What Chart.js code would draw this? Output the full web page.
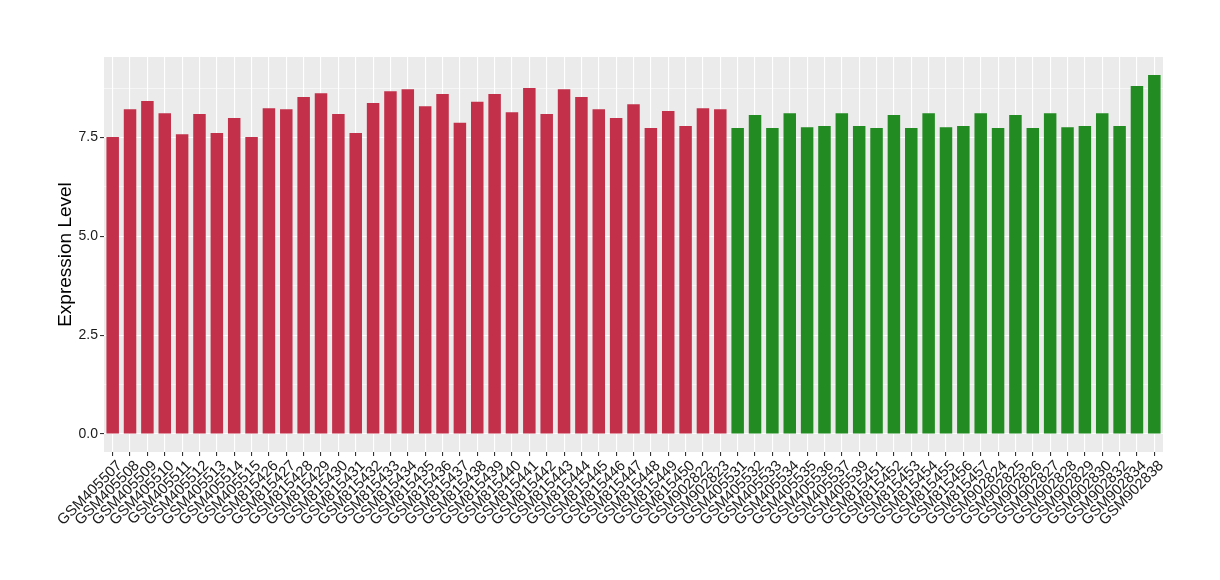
<!DOCTYPE html>
<html>
<head>
<meta charset="utf-8">
<script src="https://cdn.jsdelivr.net/npm/chart.js@4"></script>
<style>
    html, body { margin: 0; padding: 0; background: #fff; }
</style>
</head>
<body>
<canvas id="exprChart" width="1220" height="580"></canvas>
<script>
const redSamples = ['GSM405507', 'GSM405508', 'GSM405509', 'GSM405510', 'GSM405511', 'GSM405512',
    'GSM405513', 'GSM405514', 'GSM405515', 'GSM815426', 'GSM815427', 'GSM815428', 'GSM815429',
    'GSM815430', 'GSM815431', 'GSM815432', 'GSM815433', 'GSM815434', 'GSM815435', 'GSM815436',
    'GSM815437', 'GSM815438', 'GSM815439', 'GSM815440', 'GSM815441', 'GSM815442', 'GSM815443',
    'GSM815444', 'GSM815445', 'GSM815446', 'GSM815447', 'GSM815448', 'GSM815449', 'GSM815450',
    'GSM902822', 'GSM902823']
const redValues = [7.51, 8.21, 8.42, 8.11, 7.58, 8.09, 7.61, 7.99, 7.51, 8.24, 8.21, 8.52, 8.62,
    8.09, 7.61, 8.37, 8.67, 8.72, 8.29, 8.60, 7.87, 8.40, 8.60, 8.14, 8.75, 8.09, 8.72, 8.52,
    8.21, 7.99, 8.34, 7.74, 8.17, 7.79, 8.24, 8.21]

const greenSamples = ['GSM405531', 'GSM405532', 'GSM405533', 'GSM405534', 'GSM405535', 'GSM405536',
    'GSM405537', 'GSM405539', 'GSM815451', 'GSM815452', 'GSM815453', 'GSM815454', 'GSM815455',
    'GSM815456', 'GSM815457', 'GSM902824', 'GSM902825', 'GSM902826', 'GSM902827', 'GSM902828',
    'GSM902829', 'GSM902830', 'GSM902832', 'GSM902834', 'GSM902838']
const greenValues = [7.74, 8.07, 7.74, 8.11, 7.76, 7.79, 8.11, 7.79, 7.74, 8.07, 7.74, 8.11, 7.76,
    7.79, 8.11, 7.74, 8.07, 7.74, 8.11, 7.76, 7.79, 8.11, 7.79, 8.80, 9.08]

const yTicks = [0, 2.5, 5, 7.5]
const yMin = -0.454
const yMax = 9.534

const RED = '#C3304A'
const GREEN = '#228B22'

const labels = redSamples.concat(greenSamples)
const values = redValues.concat(greenValues)
const colors = redSamples.map(() => RED).concat(greenSamples.map(() => GREEN))

const isMajor = v => yTicks.some(t => Math.abs(t - v) < 1e-6)

const panelBg = {
    id: 'panelBg',
    beforeDraw(chart) {
        const { ctx, chartArea } = chart
        ctx.save()
        ctx.fillStyle = '#EBEBEB'
        ctx.fillRect(chartArea.left, chartArea.top, chartArea.right - chartArea.left, chartArea.bottom - chartArea.top)
        ctx.restore()
    }
}

new Chart(document.getElementById('exprChart').getContext('2d'), {
    type: 'bar',
    data: {
        labels,
        datasets: [{
            data: values,
            backgroundColor: colors,
            barPercentage: 0.72,
            categoryPercentage: 1
        }]
    },
    options: {
        responsive: false,
        animation: false,
        layout: { padding: { top: 57, right: 57, bottom: 0, left: 0 } },
        plugins: {
            legend: { display: false },
            tooltip: { enabled: false }
        },
        scales: {
            x: {
                afterFit(scale) { scale.height = 128 },
                border: { display: false },
                grid: {
                    offset: false,
                    color: '#FFFFFF',
                    lineWidth: 1.1,
                    tickColor: '#333333',
                    tickLength: 4
                },
                ticks: {
                    autoSkip: false,
                    maxRotation: 45,
                    minRotation: 45,
                    padding: 1,
                    labelOffset: 7,
                    color: '#1a1a1a',
                    font: { family: 'Liberation Sans, Arial, sans-serif', size: 15 }
                }
            },
            y: {
                min: yMin,
                max: yMax,
                afterFit(scale) { scale.width = 104 },
                border: { display: false },
                grid: {
                    color: ctx => (ctx.tick && ctx.tick.value >= 0) ? '#FFFFFF' : 'rgba(0,0,0,0)',
                    lineWidth: ctx => (ctx.tick && isMajor(ctx.tick.value)) ? 1.1 : 0.55,
                    tickColor: ctx => (ctx.tick && isMajor(ctx.tick.value)) ? '#333333' : 'rgba(0,0,0,0)',
                    tickLength: 4
                },
                ticks: {
                    stepSize: 1.25,
                    includeBounds: false,
                    padding: 2,
                    color: '#1a1a1a',
                    font: { family: 'Liberation Sans, Arial, sans-serif', size: 14 },
                    callback: v => isMajor(v) ? v.toFixed(1) : ''
                },
                title: {
                    display: true,
                    text: 'Expression Level',
                    color: '#000000',
                    padding: { top: 54, bottom: 0 },
                    font: { family: 'Liberation Sans, Arial, sans-serif', size: 19 }
                }
            }
        }
    },
    plugins: [panelBg]
})
</script>
</body>
</html>
